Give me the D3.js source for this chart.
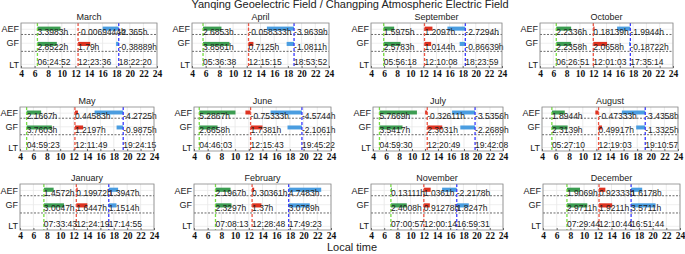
<!DOCTYPE html>
<html>
<head>
<meta charset="utf-8">
<script src="https://cdn.jsdelivr.net/npm/d3@7"></script>
<style>
  body { margin: 0; background: #fff; }
  svg { display: block; }
  text { font-family: Arial, "Liberation Sans", sans-serif; }
</style>
</head>
<body>
<svg id="chart" width="685" height="254"></svg>
<script>
// months in the order they are laid out (row by row)
var months = ['March', 'April', 'September', 'October',
              'May', 'June', 'July', 'August',
              'January', 'February', 'November', 'December'];

// hours: [after sunrise, around noon, around sunset]
var aefHours = [
    [3.3983, -0.0069444, -2.365],
    [2.6853, -0.058333, -3.9639],
    [1.5975, 1.2097, -2.7294],
    [2.2336, 0.18139, -1.9944],
    [2.1667, 0.44583, -4.2725],
    [5.2867, -0.75333, -4.5744],
    [5.7669, -0.32611, -3.5356],
    [1.8944, -0.47333, -3.4358],
    [1.4572, 0.19972, 1.3947],
    [2.1967, 0.30361, 4.7483],
    [0.13111, 1.0361, -2.2178],
    [1.9069, 0.92333, 1.6178]
];
var gfHours = [
    [2.8522, 1.79, -0.38889],
    [3.8561, 0.7125, -1.0811],
    [2.5783, 1.0144, -0.86639],
    [2.2358, 2.0658, -0.18722],
    [3.7603, 1.2197, -0.9875],
    [2.6658, 1.7381, -2.1061],
    [3.5417, 2.3031, -2.2689],
    [2.3139, 0.49917, -1.3325],
    [3.0047, 1.6447, 1.1514],
    [2.3297, 1.37, 3.0769],
    [2.4008, 0.91278, 1.8247],
    [2.9711, 1.9211, 3.5711]
];
// local time of sunrise, noon, sunset
var ltTimes = [
    ['06:24:52', '12:23:36', '18:22:20'],
    ['05:36:38', '12:15:15', '18:53:52'],
    ['05:56:18', '12:10:08', '18:23:59'],
    ['06:26:51', '12:01:03', '17:35:14'],
    ['04:59:23', '12:11:49', '19:24:15'],
    ['04:46:03', '12:15:43', '19:45:22'],
    ['04:59:30', '12:20:49', '19:42:08'],
    ['05:27:10', '12:19:03', '19:10:57'],
    ['07:33:43', '12:24:19', '17:14:55'],
    ['07:08:13', '12:28:48', '17:49:23'],
    ['07:00:57', '12:00:14', '16:59:31'],
    ['07:29:44', '12:10:44', '16:51:44']
];
var xTicks = [4, 6, 8, 10, 12, 14, 16, 18, 20, 22, 24];
var rowLabels = ['AEF', 'GF', 'LT'];

// axes boxes [left, right, top, bottom] in px
var boxes = [
    [21, 157, 23, 68], [192, 329, 23, 68], [371, 502, 23, 68], [540, 673, 23, 68],
    [20, 154, 107, 151], [194, 331, 107, 151], [373, 503, 107, 151], [542, 678, 107, 151],
    [20, 154, 184, 230], [194, 331, 184, 230], [371, 503, 184, 230], [543, 680, 184, 230]
];

var eventLine = ['#77dd44', '#ee5544', '#3b3bff'];
var barFill = ['#3c9d52', '#de3220', '#4a9de0'];

var toHours = function(s) {
    var p = s.split(':').map(Number);
    return p[0] + p[1] / 60 + p[2] / 3600;
};

var svg = d3.select('#chart');

svg.append('text')
    .attr('x', 350).attr('y', 8)
    .style('text-anchor', 'middle').style('font-size', '11px').style('fill', '#222')
    .text('Yanqing Geoelectric Field / Changping Atmospheric Electric Field');

svg.append('text')
    .attr('x', 352).attr('y', 251)
    .style('text-anchor', 'middle').style('font-size', '11px').style('fill', '#222')
    .text('Local time');

months.forEach(function(month, m) {
    var b = boxes[m];
    var x = d3.scaleLinear().domain([4, 24]).range([b[0], b[1]]);
    var y = d3.scaleLinear().domain([0, 1]).range([b[2], b[3]]);
    var times = ltTimes[m].map(toHours);
    var g = svg.append('g').attr('class', 'panel');

    g.append('rect')
        .attr('x', b[0]).attr('y', b[2])
        .attr('width', b[1] - b[0]).attr('height', b[3] - b[2])
        .style('fill', 'white');

    // light grid
    g.selectAll('.vgrid').data(xTicks).enter().append('line')
        .attr('x1', function(d) { return x(d); }).attr('x2', function(d) { return x(d); })
        .attr('y1', b[2]).attr('y2', b[3])
        .style('stroke', '#e4e4e4').style('stroke-width', 0.7);
    g.selectAll('.hgrid').data([0.14, 0.45, 0.92]).enter().append('line')
        .attr('x1', b[0]).attr('x2', b[1])
        .attr('y1', function(d) { return y(d); }).attr('y2', function(d) { return y(d); })
        .style('stroke', '#e8e8e8').style('stroke-width', 0.7);

    // dashed row separators
    g.selectAll('.sep').data([0.255, 0.63]).enter().append('line')
        .attr('x1', b[0]).attr('x2', b[1])
        .attr('y1', function(d) { return y(d); }).attr('y2', function(d) { return y(d); })
        .style('stroke', '#444').style('stroke-width', 0.8).style('stroke-dasharray', '2,1.5');

    // bars
    [aefHours[m], gfHours[m]].forEach(function(vals, r) {
        var top = r === 0 ? 0.08 : 0.42;
        g.selectAll('.bar' + r).data(vals).enter().append('rect')
            .attr('x', function(d, i) { return x(Math.min(times[i], times[i] + d)); })
            .attr('width', function(d) { return Math.abs(x(4 + d) - x(4)); })
            .attr('y', y(top)).attr('height', y(top + 0.09) - y(top))
            .style('fill', function(d, i) { return barFill[i]; });
    });

    // event lines
    g.selectAll('.ev').data(times).enter().append('line')
        .attr('x1', function(d) { return x(d); }).attr('x2', function(d) { return x(d); })
        .attr('y1', b[2]).attr('y2', b[3])
        .style('stroke', function(d, i) { return eventLine[i]; })
        .style('stroke-width', 1.3).style('stroke-dasharray', '3,2');

    // value labels
    var rowsText = [
        { vals: aefHours[m].map(function(v) { return v + 'h'; }), yy: 0.2 },
        { vals: gfHours[m].map(function(v) { return v + 'h'; }), yy: 0.53 },
        { vals: ltTimes[m], yy: 0.86 }
    ];
    rowsText.forEach(function(rt) {
        g.selectAll('.lbl').data(rt.vals).enter().append('text')
            .attr('x', function(d, i) { return x(times[i]); })
            .attr('y', y(rt.yy)).attr('dy', '0.35em')
            .style('font-size', '8.5px').style('fill', '#222')
            .text(function(d) { return d; });
    });

    // box
    g.append('rect')
        .attr('x', b[0]).attr('y', b[2])
        .attr('width', b[1] - b[0]).attr('height', b[3] - b[2])
        .style('fill', 'none').style('stroke', '#888').style('stroke-width', 0.8);

    // x axis
    var xAxis = d3.axisBottom(x).tickValues(xTicks).tickSize(-2).tickPadding(2);
    var ax = g.append('g')
        .attr('transform', 'translate(0,' + b[3] + ')')
        .call(xAxis);
    ax.select('.domain').remove();
    ax.selectAll('line').style('stroke', '#666');
    ax.selectAll('text')
        .style('font-family', '"Liberation Serif", "Times New Roman", serif')
        .style('font-weight', 'bold').style('font-size', '9.5px').style('fill', '#111');

    // y labels
    g.selectAll('.ylab').data(rowLabels).enter().append('text')
        .attr('x', b[0] - 2)
        .attr('y', function(d, i) { return y([0.14, 0.45, 0.92][i]); }).attr('dy', '0.35em')
        .style('text-anchor', 'end').style('font-size', '9px').style('fill', '#222')
        .text(function(d) { return d; });

    // month title
    g.append('text')
        .attr('x', (b[0] + b[1]) / 2).attr('y', b[2] - 3)
        .style('text-anchor', 'middle').style('font-size', '9px').style('fill', '#222')
        .text(month);
});
</script>
</body>
</html>
